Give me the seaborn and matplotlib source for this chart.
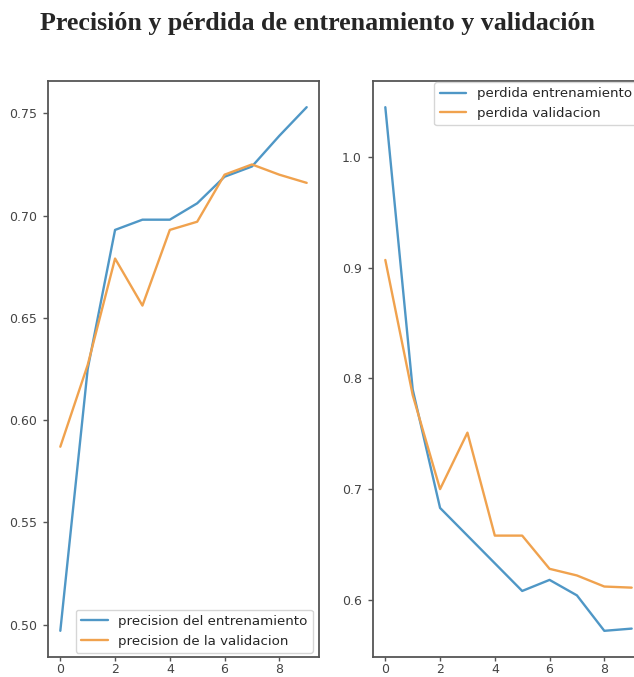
import numpy as np
import pandas as pd
import matplotlib
matplotlib.use("Agg")
import matplotlib.pyplot as plt
import seaborn as sns

epochs = list(range(10))
acc_train = [0.497, 0.625, 0.693, 0.698, 0.698, 0.706, 0.719, 0.724, 0.739, 0.753]
acc_val = [0.587, 0.627, 0.679, 0.656, 0.693, 0.697, 0.720, 0.725, 0.720, 0.716]
loss_train = [1.045, 0.790, 0.683, 0.658, 0.633, 0.608, 0.618, 0.604, 0.572, 0.574]
loss_val = [0.907, 0.785, 0.700, 0.751, 0.658, 0.658, 0.628, 0.622, 0.612, 0.611]

blue = "#4f97c6"
orange = "#f0a24e"

sns.set_style("ticks")
plt.rcParams["font.family"] = ["DejaVu Sans"]
plt.rcParams["axes.edgecolor"] = "#555555"
plt.rcParams["xtick.color"] = "#555555"
plt.rcParams["ytick.color"] = "#555555"
plt.rcParams["xtick.labelcolor"] = "#444444"
plt.rcParams["ytick.labelcolor"] = "#444444"

fig = plt.figure(figsize=(6.34, 6.77), dpi=100)
ax1 = fig.add_axes([48 / 634, 20 / 677, 271 / 634, 576 / 677])
ax2 = fig.add_axes([373 / 634, 20 / 677, 271 / 634, 576 / 677])

df_acc = pd.DataFrame({"epoca": epochs, "train": acc_train, "val": acc_val})
df_loss = pd.DataFrame({"epoca": epochs, "train": loss_train, "val": loss_val})

sns.lineplot(data=df_acc, x="epoca", y="train", ax=ax1, color=blue, linewidth=1.7,
             label="precision del entrenamiento")
sns.lineplot(data=df_acc, x="epoca", y="val", ax=ax1, color=orange, linewidth=1.7,
             label="precision de la validacion")
sns.lineplot(data=df_loss, x="epoca", y="train", ax=ax2, color=blue, linewidth=1.7,
             label="perdida entrenamiento")
sns.lineplot(data=df_loss, x="epoca", y="val", ax=ax2, color=orange, linewidth=1.7,
             label="perdida validacion")

for ax in (ax1, ax2):
    ax.set_xlabel("")
    ax.set_ylabel("")
    ax.set_xticks([0, 2, 4, 6, 8])
    ax.tick_params(axis="y", labelsize=9, length=3.5, width=1, pad=4.5)
    ax.tick_params(axis="x", labelsize=9, length=3, width=1, pad=1.5)
    for s in ax.spines.values():
        s.set_linewidth(1.3)

ax1.set_yticks([0.50, 0.55, 0.60, 0.65, 0.70, 0.75])
ax1.set_yticklabels(["0.50", "0.55", "0.60", "0.65", "0.70", "0.75"])
ax2.set_yticks([0.6, 0.7, 0.8, 0.9, 1.0])
ax2.set_yticklabels(["0.6", "0.7", "0.8", "0.9", "1.0"])

ax1.legend(loc="lower right", bbox_to_anchor=(0.978, 0.007), borderaxespad=0,
           fontsize=9.6, frameon=True)
ax2.legend(loc="upper right", bbox_to_anchor=(0.976, 0.998), borderaxespad=0,
           fontsize=9.6, frameon=True)

fig.suptitle("Precisión y pérdida de entrenamiento y validación",
             family="Liberation Serif", fontweight="bold", fontsize=18.7,
             x=0.5, y=1 - 23.5 / 677, va="center")

fig.savefig("out.png", dpi=100)
